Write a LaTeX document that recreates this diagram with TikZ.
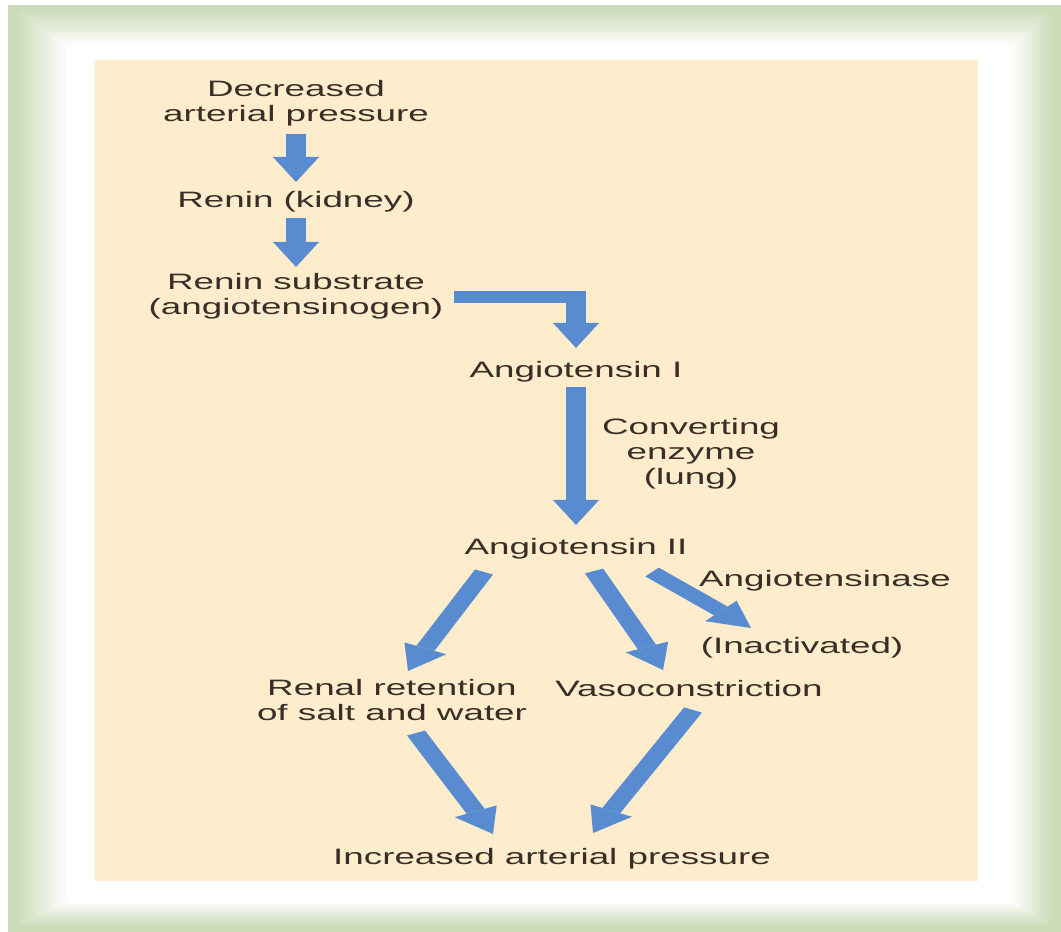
\documentclass[tikz,border=0pt]{standalone}
\usepackage{fontspec}
\setmainfont{Liberation Sans}
\usetikzlibrary{arrows.meta,calc}
\definecolor{framegreen}{RGB}{204,219,184}
\definecolor{beige}{RGB}{254,237,204}
\definecolor{arrowblue}{RGB}{89,139,209}
\definecolor{txt}{RGB}{55,47,40}
\begin{document}
\begin{tikzpicture}[x=1pt,y=-1pt,
  lbl/.style={inner sep=0pt,align=center,text=txt,font=\fontsize{22.3}{25}\selectfont},
  barrow/.style={draw=arrowblue,line width=12pt,-{Triangle[length=25pt,width=28pt,line width=0pt]}}]
\useasboundingbox (0,0) rectangle (1061,932);
\fill[white] (0,0) rectangle (1061,932);
\fill[framegreen] (8,5) rectangle (1061,932);
\foreach \i in {1,...,30}{
  \pgfmathsetmacro\fl{16+\i*52/30}
  \pgfmathsetmacro\ft{10+\i*36/30}
  \pgfmathsetmacro\fr{1052-\i*40/30}
  \pgfmathsetmacro\fb{926-\i*24/30}
  \pgfmathtruncatemacro\fc{100-\i*100/30}
  \fill[framegreen!\fc!white] (\fl,\ft) rectangle (\fr,\fb);
}
\fill[beige] (95,60) rectangle (978,881);
\begin{scope}[transform canvas={xscale=1.65},x=0.606061pt,y=-1pt]
  \node[lbl] (dec) at (296,103.7) {Decreased\\arterial pressure};
  \node[lbl,anchor=base] (renin) at (296,207) {Renin (kidney)};
  \node[lbl] (sub) at (296,296.7) {Renin substrate\\(angiotensinogen)};
  \node[lbl,anchor=base] (ang1) at (576,377) {Angiotensin I};
  \node[lbl] (conv) at (691,454) {Converting\\enzyme\\(lung)};
  \node[lbl,anchor=base] (ang2) at (576,554) {Angiotensin II};
  \node[lbl,anchor=base] (ase) at (825,586) {Angiotensinase};
  \node[lbl,anchor=base] (inact) at (802,653) {(Inactivated)};
  \node[lbl] (renal) at (392,700.5) {Renal retention\\of salt and water};
  \node[lbl,anchor=base] (vaso) at (689,696) {Vasoconstriction};
  \node[lbl,anchor=base] (inc) at (552,864) {Increased arterial pressure};

  \draw[barrow,shorten <=7pt,shorten >=8.7pt] (dec.south) -- (renin.north);
  \draw[barrow,shorten <=6.3pt,shorten >=6.7pt] (renin.south) -- (sub.north);
  \draw[barrow,shorten >=12.7pt] ([xshift=6.5pt]sub.east) -| (ang1.north);
  \draw[barrow,shorten <=5.3pt,shorten >=12.7pt] (ang1.south) -- (ang2.north);
  \draw[barrow] ($(ang2.base)+(-92,18)$) -- ($(renal.center)+(16,-29.5)$);
  \draw[barrow] ($(ang2.base)+(18,17)$) -- ($(vaso.base)+(-26,-26)$);
  \draw[barrow] ($(ang2.base)+(76,18)$) -- ($(inact.base)+(-51,-25)$);
  \draw[barrow] ($(renal.center)+(24,32.5)$) -- ($(inc.base)+(-59,-30)$);
  \draw[barrow] ($(vaso.base)+(4,14)$) -- ($(inc.base)+(41,-31)$);
\end{scope}
\end{tikzpicture}
\end{document}
